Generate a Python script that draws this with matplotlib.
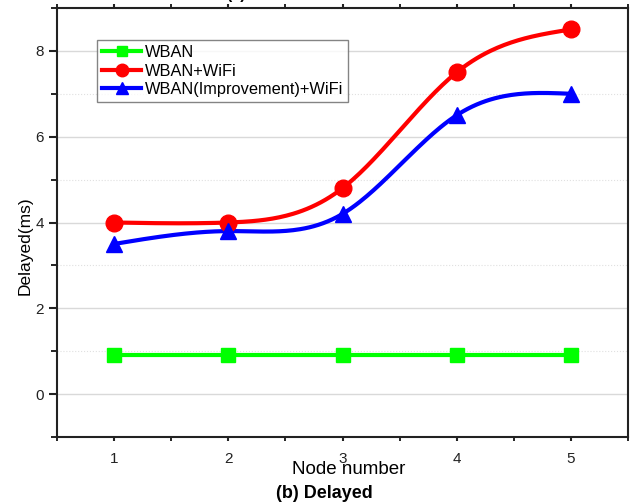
import numpy as np
import matplotlib
matplotlib.use('Agg')
import matplotlib.pyplot as plt
from matplotlib.ticker import MultipleLocator

plt.rcParams['font.family'] = ['Liberation Sans', 'DejaVu Sans']

# data
nodes = [1, 2, 3, 4, 5]
wban = [0.9, 0.9, 0.9, 0.9, 0.9]
wban_wifi = [4.0, 4.0, 4.8, 7.5, 8.5]
wban_imp_wifi = [3.5, 3.8, 4.2, 6.5, 7.0]


def spline(x, y, n=200):
	# natural cubic spline, only for drawing the connecting line
	x = np.asarray(x, float)
	y = np.asarray(y, float)
	k = len(x)
	h = np.diff(x)
	A = np.zeros((k, k))
	b = np.zeros(k)
	A[0, 0] = 1
	A[-1, -1] = 1
	for i in range(1, k - 1):
		A[i, i - 1] = h[i - 1]
		A[i, i] = 2 * (h[i - 1] + h[i])
		A[i, i + 1] = h[i]
		b[i] = 6 * ((y[i + 1] - y[i]) / h[i] - (y[i] - y[i - 1]) / h[i - 1])
	M = np.linalg.solve(A, b)
	xs = np.linspace(x[0], x[-1], n)
	idx = np.clip(np.searchsorted(x, xs) - 1, 0, k - 2)
	x0 = x[idx]
	x1 = x[idx + 1]
	hh = x1 - x0
	ys = (M[idx] * (x1 - xs) ** 3 / (6 * hh) + M[idx + 1] * (xs - x0) ** 3 / (6 * hh)
		+ (y[idx] / hh - M[idx] * hh / 6) * (x1 - xs)
		+ (y[idx + 1] / hh - M[idx + 1] * hh / 6) * (xs - x0))
	return xs, ys


fig = plt.figure(figsize=(6.36, 5.04), dpi=100)
ax = fig.add_axes([57 / 636, 67 / 504, 571 / 636, 429 / 504])

series = [
	(wban, '#00ff00', 's', 10, 'WBAN'),
	(wban_wifi, '#ff0000', 'o', 12, 'WBAN+WiFi'),
	(wban_imp_wifi, '#0000ff', '^', 12, 'WBAN(Improvement)+WiFi'),
]
for vals, col, mk, ms, lab in series:
	xs, ys = spline(nodes, vals)
	ax.plot(xs, ys, color=col, lw=3, zorder=3)
	ax.plot(nodes, vals, linestyle='none', marker=mk, ms=ms, color=col, zorder=4)
	ax.plot([], [], color=col, lw=3, marker=mk, ms=ms - 3, label=lab)

ax.set_xlim(0.5, 5.5)
ax.set_ylim(-1, 9)
ax.set_xticks(nodes)
ax.xaxis.set_minor_locator(MultipleLocator(0.5))
ax.set_yticks([0, 2, 4, 6, 8])
ax.yaxis.set_minor_locator(MultipleLocator(1))
ax.grid(axis='y', which='major', color='#d9d9d9', lw=1)
ax.grid(axis='y', which='minor', color='#e0e0e0', lw=0.8, linestyle=':')
ax.set_axisbelow(True)

for s in ax.spines.values():
	s.set_linewidth(1.5)
	s.set_color('#222222')
ax.tick_params(axis='both', which='major', direction='out', length=6, width=1.5, labelsize=11, colors='#222222')
ax.tick_params(axis='both', which='minor', direction='out', length=4, width=1.2)
ax.tick_params(axis='x', which='minor', top=True, length=3)
ax.tick_params(axis='x', which='major', top=True, length=3, pad=8)

fig.text(25 / 636, 1 - 246 / 504, 'Delayed(ms)', fontsize=12.5, rotation=90, ha='center', va='center')
fig.text(349 / 636, 1 - 470 / 504, 'Node number', fontsize=13.5, ha='center', va='center')
fig.text(324 / 636, 1 - 493 / 504, '(b) Delayed', fontsize=13, fontweight='bold', ha='center', va='center')
fig.text(236 / 636, 1 + 1 / 504, '(a)', fontsize=11.5, fontweight='bold', ha='center', va='baseline')

leg = ax.legend(loc='upper left', bbox_to_anchor=(40 / 571, 1 - 32 / 429), fontsize=11.8,
	frameon=True, fancybox=False, handlelength=2.4, handletextpad=0.2, labelspacing=0.22,
	borderpad=0.3, borderaxespad=0)
leg.get_frame().set_edgecolor('#666666')
leg.get_frame().set_linewidth(1)

fig.savefig('out.png', dpi=100)
